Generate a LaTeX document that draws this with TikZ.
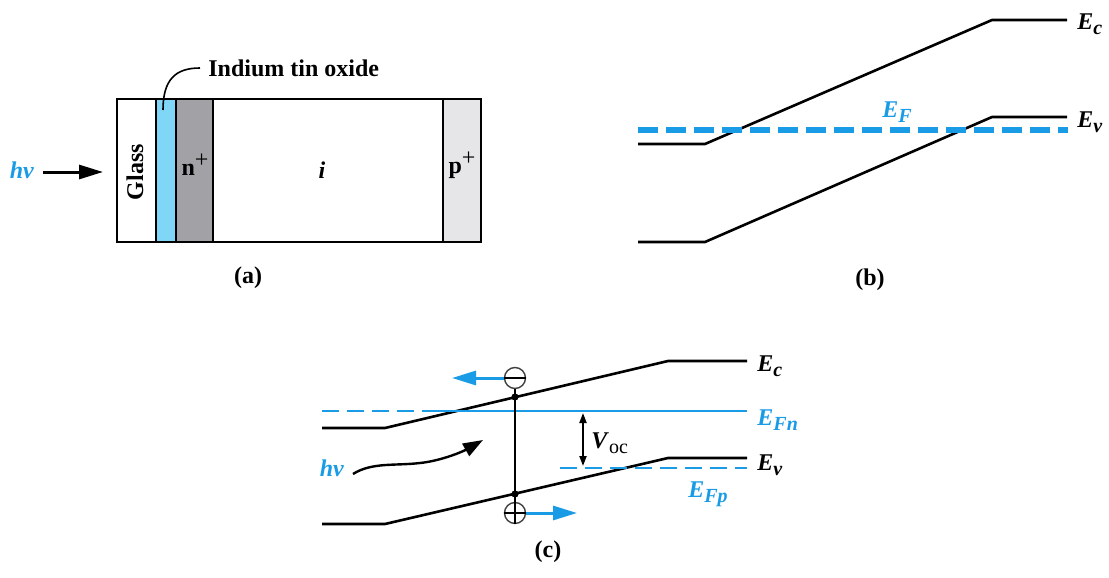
\documentclass[tikz,border=0pt]{standalone}
\usepackage{fontspec}
\setmainfont{Liberation Serif}
\usetikzlibrary{arrows.meta}
\definecolor{lineblue}{HTML}{1A9BE6}
\definecolor{itoblue}{HTML}{80D6F7}
\definecolor{ngray}{HTML}{A2A2A6}
\definecolor{pgray}{HTML}{E6E6E8}
\newcommand{\subtxt}[1]{\raisebox{-0.45ex}{\fontsize{10}{12}\selectfont #1}}
\newcommand{\suptxt}[1]{\raisebox{0.75ex}{\mdseries\fontsize{12}{14}\selectfont #1}}
\newcommand{\lvl}[2]{\textit{#1}\subtxt{\textit{#2}}}
\tikzset{
  lbl/.style={font=\fontsize{12}{14}\selectfont\bfseries, inner sep=0pt},
  band/.style={line width=1.3pt, line join=round},
  bigarrow/.style={line width=1.5pt, -{Triangle[length=12pt,width=7pt]}},
  carrier/.style={circle, draw=black!75, line width=0.7pt, minimum size=10.5pt, inner sep=0pt},
  fermi/.style={lineblue, line width=1.2pt},
}
\begin{document}
\begin{tikzpicture}[x=0.5pt,y=-0.5pt]
  \useasboundingbox (0,0) rectangle (1109,578);
  % (a) layers of the cell
  \path (117,99) coordinate (TL) (481,242) coordinate (BR);
  \fill[itoblue] (156,99) rectangle (176,242);
  \fill[ngray] (176,99) rectangle (213,242);
  \fill[pgray] (443,99) rectangle (481,242);
  \draw[line width=1pt] (TL) rectangle (BR);
  \foreach \x in {156,176,213,443} \draw[line width=1pt] (\x,99) -- (\x,242);
  \node[lbl, rotate=90] (glass) at (135,172) {Glass};
  \node[lbl] (nplus) at (195,165) {n\suptxt{+}};
  \node[lbl] (intr) at (322,170) {\textit{i}};
  \node[lbl] (pplus) at (462,165) {p\suptxt{+}};
  \node[lbl, anchor=west] (ito) at (208,68) {Indium tin oxide};
  \coordinate (itoin) at (163,110);
  \draw[line width=0.8pt] (itoin) .. controls (163,80) and (175,68) .. ([xshift=-4pt]ito.west);
  \node[lbl, text=lineblue] (hva) at (22,170) {\textit{hν}};
  \coordinate (hvatip) at (103,172);
  \draw[bigarrow] ([xshift=4pt]hva.east |- hvatip) -- (hvatip);
  \node[lbl] (capa) at (248,278) {(a)};
  % (b) equilibrium bands
  \path (638,144) coordinate (bc0) (705,144) coordinate (bc1)
        (992,20) coordinate (bc2) (1067,20) coordinate (bc3)
        (638,242) coordinate (bv0) (705,242) coordinate (bv1)
        (992,117) coordinate (bv2) (1067,117) coordinate (bv3);
  \draw[band] (bc0)--(bc1)--(bc2)--(bc3);
  \draw[band] (bv0)--(bv1)--(bv2)--(bv3);
  \draw[lineblue, line width=3.3pt, dash pattern=on 10pt off 4pt] (638,130) -- (1068,130);
  \node[lbl, anchor=west] (ecb) at (1077,24) {\lvl{E}{c}};
  \node[lbl, anchor=west] (evb) at (1077,122) {\lvl{E}{v}};
  \node[lbl, text=lineblue] (efb) at (897,112) {\lvl{E}{F}};
  \node[lbl] (capb) at (870,280) {(b)};
  % (c) bands under illumination
  \path (322,428) coordinate (cc0) (385,428) coordinate (cc1)
        (668,361) coordinate (cc2) (747,361) coordinate (cc3)
        (322,524) coordinate (cv0) (385,524) coordinate (cv1)
        (668,458) coordinate (cv2) (747,458) coordinate (cv3);
  \draw[band] (cc0)--(cc1)--(cc2)--(cc3);
  \draw[band] (cv0)--(cv1)--(cv2)--(cv3);
  \draw[fermi, dash pattern=on 8.5pt off 4pt] (322,411) -- (438,411);
  \draw[fermi] (438,411) -- (747,411);
  \draw[fermi, dash pattern=on 8.5pt off 4pt] (560,468) -- (747,468);
  \node[lbl, anchor=west] (ecc) at (757,366) {\lvl{E}{c}};
  \node[lbl, anchor=west, text=lineblue] (efn) at (757,420) {\lvl{E}{Fn}};
  \node[lbl, anchor=west] (evc) at (757,465) {\lvl{E}{v}};
  \node[lbl, text=lineblue] (efp) at (708,494) {\lvl{E}{Fp}};
  \node[carrier] (elec) at (515,378) {};
  \node[carrier] (hole) at (515,513) {};
  \draw[line width=0.7pt] (elec.west) -- (elec.east);
  \draw[line width=0.7pt] (hole.west) -- (hole.east) (hole.north) -- (hole.south);
  \draw[line width=1pt] (elec.south) -- (hole.north);
  \fill (515,397) circle (1.8pt) (515,494) circle (1.8pt);
  \coordinate (elecend) at (452,378);
  \coordinate (holeend) at (577,513);
  \draw[bigarrow, lineblue] (elec.west) -- (elecend);
  \draw[bigarrow, lineblue] (hole.east) -- (holeend);
  \draw[line width=1pt, {Triangle[length=5pt,width=3.5pt]}-{Triangle[length=5pt,width=3.5pt]}] (583,413) -- (583,466);
  \node[lbl, anchor=west] (voc) at (591,443) {\textit{V}\subtxt{\mdseries oc}};
  \node[lbl, text=lineblue] (hvc) at (332,468) {\textit{hν}};
  \draw[line width=1.2pt, -{Triangle[length=10pt,width=7pt]}] (353,474) .. controls (372,462) and (395,466) .. (420,463) .. controls (440,461) and (462,452) .. (483,440);
  \node[lbl] (capc) at (548,552) {(c)};
\end{tikzpicture}
\end{document}
